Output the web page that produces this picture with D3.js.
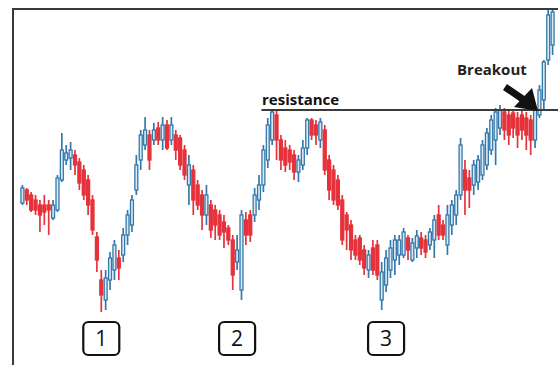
<!DOCTYPE html>
<html><head><meta charset="utf-8">
<script src="https://cdn.jsdelivr.net/npm/d3@7"></script>
<style>html,body{margin:0;padding:0;background:#fff;}svg{display:block;}</style>
</head><body>
<script>
const open  = [117,130,125,120,115,115,115,102,110,140,160,162,165,158,150,140,120,83,40,20,40,50,62,65,85,95,130,160,175,185,180,192,180,195,180,185,182,170,135,150,135,125,105,115,110,105,98,92,80,58,30,100,105,105,120,135,160,180,205,180,172,170,165,148,155,172,200,195,180,190,160,150,140,120,105,95,80,82,70,50,72,75,20,35,50,60,65,65,82,60,72,82,80,75,80,105,95,75,95,105,125,150,142,135,138,145,155,170,180,192,208,205,207,202,205,202,200,180,205,220,260,275];
const high  = [135,132,128,125,120,125,120,120,145,187,175,178,170,162,155,145,125,88,50,50,68,80,70,92,110,125,165,190,203,190,197,198,203,200,203,190,185,175,165,155,140,130,135,120,115,110,105,95,85,85,110,108,110,132,145,175,202,210,210,185,180,175,170,165,180,202,202,200,202,195,165,155,145,125,108,100,85,85,75,70,80,80,58,70,80,85,85,92,85,82,90,88,85,92,105,115,100,115,120,130,182,160,150,160,165,180,192,205,212,215,212,210,210,208,210,208,205,215,235,260,310,312];
const low   = [115,115,108,105,88,95,85,100,108,138,155,150,145,130,120,105,85,48,8,10,30,40,40,58,75,88,125,150,170,150,175,175,170,170,175,160,150,140,115,105,110,90,95,82,80,80,72,75,30,50,20,75,78,98,110,128,152,175,160,150,148,150,140,138,150,165,180,175,172,145,120,115,110,75,70,60,60,55,45,42,45,40,10,28,42,45,55,62,60,58,62,65,62,70,62,80,80,65,85,95,120,105,112,125,130,140,150,165,155,185,180,175,182,172,180,170,165,172,202,210,255,265];
const close = [132,120,110,110,105,108,110,115,142,170,167,170,155,137,125,115,90,60,25,42,62,75,52,85,105,120,155,185,190,160,190,180,195,172,195,170,155,145,155,120,115,105,125,90,95,85,88,80,45,70,105,85,85,125,135,170,195,208,180,160,155,158,148,160,172,200,185,185,198,150,130,120,115,80,90,70,65,60,52,65,50,45,48,62,72,80,80,88,70,77,84,72,68,88,100,85,85,105,115,125,175,130,130,155,160,175,187,200,208,210,190,185,192,185,190,185,180,210,230,258,305,308];
const resistanceLevel = 210;
const resistanceStart = 55;
const labelTexts = ["1","2","3"];
const labelIndex = [18,49,83];
const resistanceText = "resistance";
const breakoutText = "Breakout";

const W = 558, H = 365;
const N = open.length;
const svg = d3.select("body").append("svg").attr("width", W).attr("height", H);

const x = d3.scaleBand().domain(d3.range(N)).range([20, 555]).padding(0.1);
const y = d3.scaleLinear().domain([0, 320]).range([320, 0]);
const cx = i => x(i) + x.bandwidth() / 2;

const data = d3.range(N).map(i => ({i, o: open[i], h: high[i], l: low[i], c: close[i]}));
const RED = "#e5323b", BLUE = "#3479ab";

const g = svg.append("g");
g.selectAll("line.wick").data(data).join("line")
  .attr("class", "wick")
  .attr("x1", d => cx(d.i)).attr("x2", d => cx(d.i))
  .attr("y1", d => y(d.h)).attr("y2", d => y(d.l))
  .attr("stroke", d => d.c >= d.o ? BLUE : RED)
  .attr("stroke-width", 1.7);
g.selectAll("rect.body").data(data).join("rect")
  .attr("class", "body")
  .attr("x", d => x(d.i) + 0.5)
  .attr("width", x.bandwidth() - 1)
  .attr("y", d => y(Math.max(d.o, d.c)))
  .attr("height", d => Math.max(1.5, Math.abs(y(d.o) - y(d.c))))
  .attr("fill", d => d.c >= d.o ? "#dbe9f3" : RED)
  .attr("stroke", d => d.c >= d.o ? BLUE : RED)
  .attr("stroke-width", 1.3);

// frame
svg.append("line").attr("x1", 13).attr("x2", 13).attr("y1", 8).attr("y2", H)
  .attr("stroke", "#3a3a3a").attr("stroke-width", 2);
svg.append("line").attr("x1", 12).attr("x2", W).attr("y1", 9).attr("y2", 9)
  .attr("stroke", "#3a3a3a").attr("stroke-width", 2);

// resistance
svg.append("line").attr("x1", x(resistanceStart)).attr("x2", W)
  .attr("y1", y(resistanceLevel)).attr("y2", y(resistanceLevel))
  .attr("stroke", "#3a3a3a").attr("stroke-width", 2.2);
svg.append("text").attr("x", 262).attr("y", y(resistanceLevel) - 5)
  .attr("font-family", "Open Sans, sans-serif").attr("font-weight", "bold")
  .attr("font-size", 15).attr("fill", "#111").text(resistanceText);

// breakout
svg.append("text").attr("x", 457).attr("y", 75)
  .attr("font-family", "Open Sans, sans-serif").attr("font-weight", "bold")
  .attr("font-size", 15).attr("fill", "#222").text(breakoutText);
svg.append("line").attr("x1", 505).attr("y1", 87).attr("x2", 524).attr("y2", 100)
  .attr("stroke", "#111").attr("stroke-width", 7);
svg.append("path").attr("d", "M538,111 L514,107 L532,88 Z").attr("fill", "#111");

// labels
const lab = svg.selectAll("g.lab").data(labelTexts).join("g").attr("class", "lab")
  .attr("transform", (t, k) => `translate(${cx(labelIndex[k])},338)`);
lab.append("rect").attr("x", -18).attr("y", -16).attr("width", 36).attr("height", 33)
  .attr("rx", 5).attr("fill", "#fff").attr("stroke", "#111").attr("stroke-width", 2.2);
lab.append("text").attr("text-anchor", "middle").attr("y", 8)
  .attr("font-family", "Open Sans, sans-serif").attr("font-size", 21).attr("fill", "#111")
  .text(t => t);
</script>
</body></html>
